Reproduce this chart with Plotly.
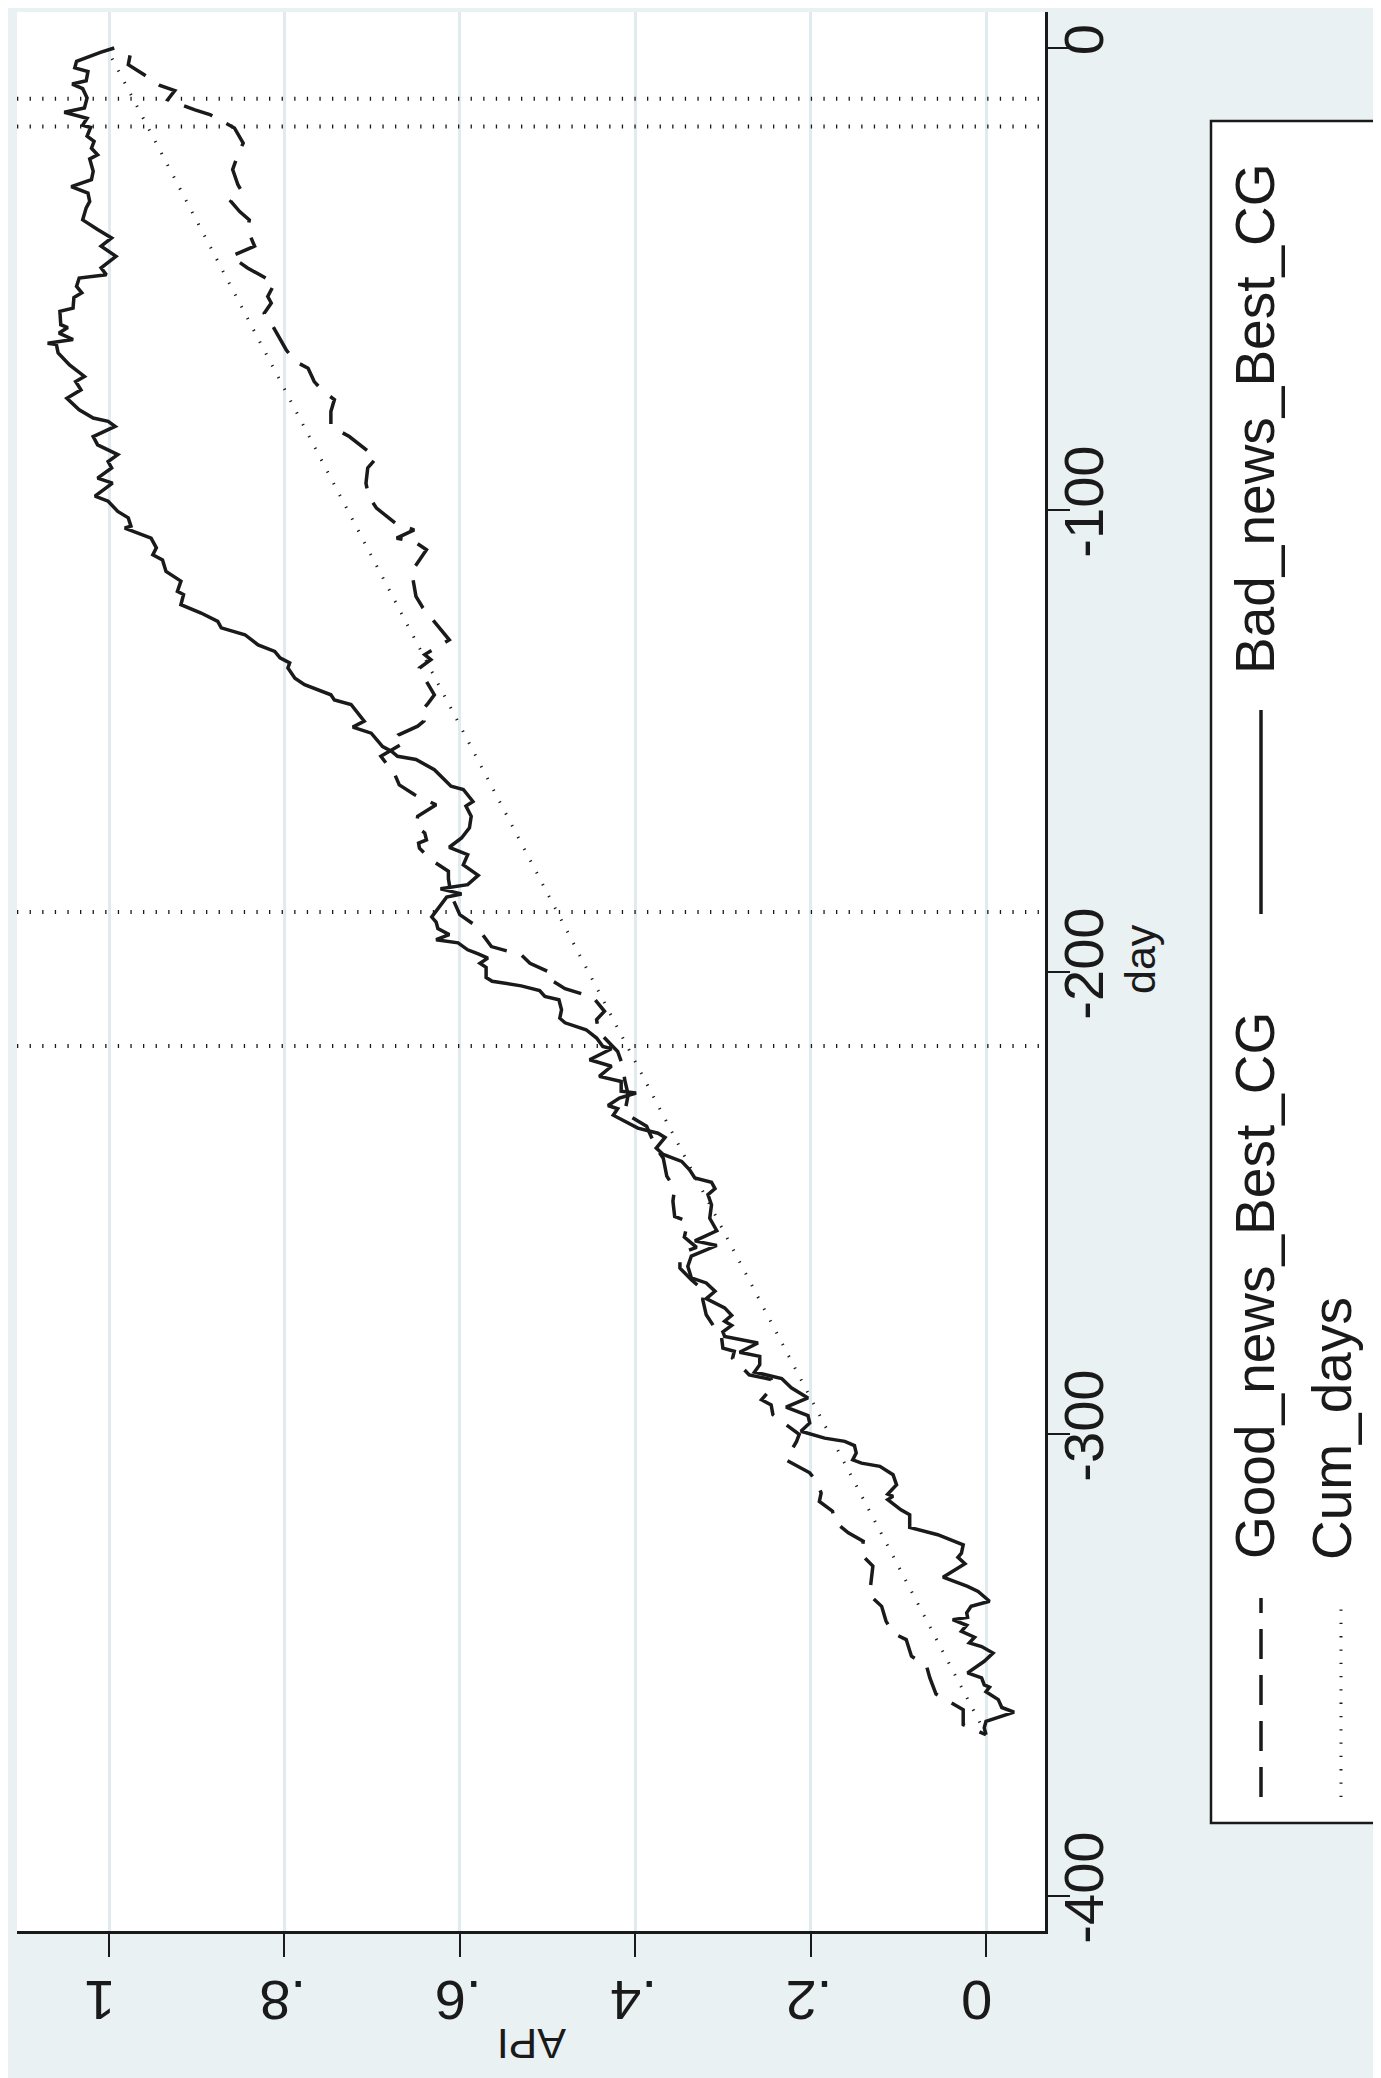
import plotly.graph_objects as go

# ---------------- data ----------------
bad_day = [0.0, -0.9, -2.9, -4.3, -5.1, -7.1, -7.8, -8.8, -10.8, -13.0, -13.9, -15.2, -16.7, -17.2,
           -19.1, -20.2, -21.7, -23.1, -24.0, -26.7, -28.5, -30.0, -31.4, -33.2, -34.6, -37.2, -39.3,
           -41.1, -42.9, -45.1, -47.6, -49.1, -49.8, -51.6, -53.0, -54.0, -56.3, -57.0, -59.9, -60.5,
           -61.7, -63.1, -63.9, -64.2, -66.0, -68.6, -71.1, -72.2, -74.0, -75.8, -78.3, -80.1, -80.8,
           -81.9, -84.1, -85.9, -88.0, -89.5, -90.9, -93.1, -94.2, -97.0, -98.1, -100.3, -101.7,
           -103.5, -103.9, -106.1, -108.2, -109.7, -110.8, -113.3, -115.4, -117.6, -118.3, -120.5,
           -122.3, -124.1, -125.5, -127.0, -129.2, -130.6, -132.0, -133.1, -134.2, -136.4, -137.8,
           -140.0, -141.1, -142.1, -145.7, -147.0, -148.3, -151.2, -152.2, -153.3, -154.0, -156.2,
           -159.8, -160.5, -163.1, -164.1, -166.3, -168.8, -171.0, -173.0, -174.6, -176.8, -179.1,
           -181.1, -182.0, -183.1, -183.8, -185.6, -188.1, -189.2, -190.6, -191.9, -193.0, -193.7,
           -195.2, -196.1, -197.0, -198.1, -199.0, -201.2, -202.0, -203.0, -204.0, -205.3, -206.0,
           -208.2, -210.0, -211.0, -212.5, -214.3, -216.1, -216.6, -219.0, -220.4, -222.6, -223.7,
           -225.8, -226.2, -227.3, -228.9, -229.6, -231.0, -233.8, -234.9, -235.8, -238.1, -239.5,
           -241.0, -242.8, -244.6, -245.5, -246.9, -248.2, -250.4, -253.3, -256.0, -258.2, -259.2,
           -261.5, -263.7, -266.2, -267.3, -269.1, -270.7, -272.7, -274.3, -275.6, -276.5, -277.9,
           -278.9, -280.3, -282.3, -283.2, -285.0, -286.6, -288.0, -290.0, -292.2, -294.2, -296.0,
           -297.6, -299.4, -300.9, -301.6, -302.5, -304.1, -305.6, -306.3, -307.0, -308.8, -311.0,
           -313.0, -313.5, -314.2, -316.4, -317.5, -320.2, -321.8, -324.0, -325.8, -326.7, -328.1,
           -331.0, -333.0, -334.1, -336.2, -337.3, -338.7, -339.7, -340.2, -341.4, -342.7, -344.0,
           -345.2, -346.0, -347.4, -349.2, -351.7, -352.8, -354.3, -354.8, -355.8, -357.5, -359.2,
           -360.2, -362.2, -363.6, -365.1]
bad_api = [0.994, 1.009, 1.037, 1.039, 1.024, 1.026, 1.042, 1.030, 1.025, 1.028, 1.051, 1.025, 1.030,
           1.021, 1.025, 1.017, 1.020, 1.013, 1.022, 1.018, 1.020, 1.043, 1.024, 1.022, 1.026, 1.030,
           1.013, 0.997, 1.009, 0.992, 1.009, 1.003, 1.034, 1.037, 1.031, 1.040, 1.041, 1.056, 1.055,
           1.047, 1.057, 1.041, 1.070, 1.060, 1.058, 1.045, 1.028, 1.038, 1.032, 1.048, 1.034, 1.018,
           1.001, 0.993, 1.018, 1.013, 0.990, 1.001, 0.997, 1.013, 0.996, 1.016, 1.001, 0.990, 0.978,
           0.975, 0.982, 0.952, 0.946, 0.950, 0.939, 0.935, 0.918, 0.922, 0.915, 0.918, 0.895, 0.876,
           0.872, 0.845, 0.830, 0.811, 0.805, 0.794, 0.796, 0.788, 0.777, 0.747, 0.743, 0.724, 0.709,
           0.722, 0.701, 0.688, 0.678, 0.671, 0.650, 0.629, 0.610, 0.596, 0.585, 0.593, 0.587, 0.589,
           0.598, 0.612, 0.591, 0.596, 0.579, 0.591, 0.622, 0.598, 0.615, 0.622, 0.632, 0.627, 0.625,
           0.612, 0.627, 0.602, 0.591, 0.579, 0.568, 0.577, 0.570, 0.570, 0.563, 0.530, 0.509, 0.503,
           0.487, 0.484, 0.486, 0.480, 0.456, 0.444, 0.437, 0.427, 0.452, 0.427, 0.441, 0.416, 0.416,
           0.399, 0.418, 0.431, 0.420, 0.425, 0.397, 0.374, 0.366, 0.376, 0.368, 0.347, 0.338, 0.332,
           0.313, 0.309, 0.317, 0.313, 0.315, 0.307, 0.332, 0.307, 0.336, 0.340, 0.336, 0.319, 0.309,
           0.319, 0.298, 0.290, 0.298, 0.290, 0.300, 0.298, 0.260, 0.281, 0.258, 0.258, 0.264, 0.233,
           0.222, 0.203, 0.228, 0.203, 0.201, 0.211, 0.184, 0.161, 0.150, 0.148, 0.152, 0.142, 0.121,
           0.106, 0.102, 0.112, 0.106, 0.112, 0.097, 0.087, 0.087, 0.055, 0.026, 0.028, 0.032, 0.024,
           0.049, 0.021, 0.009, -0.004, 0.017, 0.022, 0.021, 0.038, 0.022, 0.028, 0.013, 0.019, 0.005,
           -0.008, 0.002, 0.021, 0.005, 0.002, -0.004, 0.000, -0.014, -0.018, -0.032, 0.000, 0.002,
           0.000]

good_day = [-1.6, -3.6, -5.9, -8.1, -9.2, -11.2, -13.4, -14.4, -17.3, -20.6, -23.1, -26.3, -29.6,
            -30.9, -33.2, -35.4, -37.2, -39.3, -42.9, -45.1, -47.6, -50.9, -53.8, -55.2, -57.4, -60.3,
            -65.3, -67.8, -69.3, -72.2, -74.3, -76.1, -78.7, -81.9, -84.1, -88.7, -90.9, -94.2, -97.0,
            -99.6, -103.2, -104.3, -106.1, -106.8, -108.6, -113.3, -116.5, -118.7, -121.2, -124.1,
            -128.1, -131.3, -132.4, -134.2, -135.8, -137.1, -140.0, -141.8, -143.6, -145.7, -146.8,
            -148.6, -150.1, -153.3, -157.3, -159.5, -161.6, -163.8, -166.3, -168.5, -169.9, -171.4,
            -172.1, -173.2, -175.7, -178.2, -179.8, -183.3, -187.6, -190.1, -191.6, -194.5, -196.3,
            -198.1, -200.2, -201.5, -203.6, -205.5, -208.5, -210.3, -212.9, -214.7, -217.2, -220.4,
            -223.3, -226.6, -230.5, -233.4, -238.1, -240.3, -244.2, -246.8, -249.6, -252.9, -254.0,
            -257.4, -259.6, -260.3, -262.3, -264.1, -266.6, -269.1, -270.9, -274.2, -277.1, -278.4,
            -281.4, -282.1, -283.6, -285.4, -287.2, -288.2, -289.7, -292.6, -293.7, -295.8, -297.3,
            -300.1, -301.6, -305.6, -308.4, -310.6, -312.8, -314.6, -316.7, -318.9, -321.4, -323.2,
            -326.1, -328.6, -331.9, -334.8, -337.3, -340.5, -343.1, -344.5, -348.1, -350.1, -352.8,
            -356.3, -359.7, -362.9, -365.1]
good_api = [0.976, 0.978, 0.959, 0.942, 0.925, 0.933, 0.902, 0.885, 0.857, 0.847, 0.853, 0.859, 0.853,
            0.849, 0.861, 0.851, 0.840, 0.842, 0.834, 0.861, 0.842, 0.811, 0.819, 0.815, 0.823, 0.813,
            0.798, 0.788, 0.773, 0.766, 0.756, 0.743, 0.747, 0.747, 0.726, 0.695, 0.705, 0.707, 0.704,
            0.695, 0.671, 0.652, 0.672, 0.652, 0.638, 0.655, 0.652, 0.650, 0.642, 0.629, 0.612, 0.640,
            0.633, 0.646, 0.644, 0.638, 0.629, 0.636, 0.644, 0.641, 0.648, 0.669, 0.661, 0.690, 0.674,
            0.669, 0.652, 0.627, 0.648, 0.650, 0.640, 0.638, 0.647, 0.646, 0.633, 0.613, 0.613, 0.610,
            0.600, 0.581, 0.575, 0.564, 0.530, 0.520, 0.496, 0.498, 0.480, 0.448, 0.435, 0.444, 0.442,
            0.433, 0.420, 0.414, 0.412, 0.408, 0.412, 0.387, 0.376, 0.368, 0.364, 0.355, 0.357, 0.355,
            0.340, 0.344, 0.330, 0.340, 0.349, 0.349, 0.336, 0.321, 0.323, 0.319, 0.309, 0.302, 0.300,
            0.287, 0.289, 0.279, 0.270, 0.245, 0.243, 0.256, 0.245, 0.243, 0.233, 0.213, 0.216, 0.228,
            0.201, 0.192, 0.188, 0.190, 0.175, 0.173, 0.157, 0.140, 0.142, 0.129, 0.131, 0.133, 0.119,
            0.114, 0.106, 0.091, 0.085, 0.068, 0.064, 0.057, 0.026, 0.026, 0.000]

cum_day = [-365, -1]
cum_api = [0.0, 1.0]

ref_days = [-11, -17, -187, -216]

api_ticks = [0, 0.2, 0.4, 0.6, 0.8, 1]
api_labels = ["0", ".2", ".4", ".6", ".8", "1"]
day_ticks = [-400, -300, -200, -100, 0]
day_labels = ["-400", "-300", "-200", "-100", "0"]

series_names = ["Good_news_Best_CG", "Bad_news_Best_CG", "Cum_days"]

# ---------------- styling ----------------
W, H = 1381, 2078
L, R, T, B = 9, 1037, 4, 1923          # plot-area edges in pixels
INK = "#1a1a1a"
BG = "#eaf1f3"
GRID = "#e1eaee"
FONT = "Liberation Sans, Arial, sans-serif"
DASH = "30px,16px"
DOT = "1.3px,12px"


def px(X):
    return (X - L) / (R - L)


def py(Y):
    return (B - Y) / (B - T)


fig = go.Figure()
fig.add_trace(go.Scatter(x=good_api, y=good_day, mode="lines", name=series_names[0],
                         line=dict(color=INK, width=3.5, dash=DASH)))
fig.add_trace(go.Scatter(x=bad_api, y=bad_day, mode="lines", name=series_names[1],
                         line=dict(color=INK, width=3.5)))
fig.add_trace(go.Scatter(x=cum_api, y=cum_day, mode="lines", name=series_names[2],
                         line=dict(color=INK, width=3, dash=DOT)))

for d in ref_days:
    fig.add_shape(type="line", xref="paper", x0=0, x1=1, yref="y", y0=d, y1=d,
                  line=dict(color=INK, width=4, dash="1.3px,11.3px"))

# legend box (rotated legend, drawn by hand)
fig.add_shape(type="rect", xref="paper", yref="paper",
              x0=px(1203), x1=px(1400), y0=py(1815), y1=py(113),
              line=dict(color=INK, width=2.5), fillcolor="white", layer="below")
fig.add_shape(type="line", xref="paper", yref="paper", x0=px(1253), x1=px(1253),
              y0=py(1789), y1=py(1590), line=dict(color=INK, width=3.5, dash=DASH))
fig.add_shape(type="line", xref="paper", yref="paper", x0=px(1253), x1=px(1253),
              y0=py(906), y1=py(702), line=dict(color=INK, width=3.5))
fig.add_shape(type="line", xref="paper", yref="paper", x0=px(1333), x1=px(1333),
              y0=py(1789), y1=py(1590), line=dict(color=INK, width=3, dash=DOT))

leg_font = dict(family=FONT, size=55, color=INK)
anno = dict(xref="paper", yref="paper", showarrow=False, xanchor="center", yanchor="middle")
fig.add_annotation(text=series_names[0], x=px(1247), y=py(1278), textangle=-90, font=leg_font, **anno)
fig.add_annotation(text=series_names[1], x=px(1247), y=py(411), textangle=-90, font=leg_font, **anno)
fig.add_annotation(text=series_names[2], x=px(1324), y=py(1421), textangle=-90, font=leg_font, **anno)

# axis titles
fig.add_annotation(text="API", x=px(524), y=py(2036), textangle=180,
                   font=dict(family=FONT, size=43, color=INK), **anno)
fig.add_annotation(text="day", x=px(1132), y=py(951), textangle=-90,
                   font=dict(family=FONT, size=43, color=INK), **anno)

tick_font = dict(family=FONT, size=56, color=INK)
fig.update_layout(
    width=W, height=H,
    margin=dict(l=L, r=W - R, t=T, b=H - B, pad=0),
    paper_bgcolor=BG, plot_bgcolor="white",
    showlegend=False,
    xaxis=dict(range=[(978 - L) / 877, (978 - R) / 877], tickvals=api_ticks, ticktext=api_labels,
               tickangle=180, showgrid=True, gridcolor=GRID, gridwidth=3, zeroline=False,
               showline=True, linecolor=INK, linewidth=2.5, ticks="outside", ticklen=23,
               tickwidth=2, tickcolor=INK, tickfont=tick_font, ticklabelstandoff=13,
               ticklabelshift=25),
    yaxis=dict(range=[(40 - B) / 4.62, (40 - T) / 4.62], side="right", tickvals=day_ticks,
               ticktext=day_labels, tickangle=-90, showgrid=False, zeroline=False,
               showline=True, linecolor=INK, linewidth=2.5, ticks="outside", ticklen=22,
               tickwidth=2, tickcolor=INK, tickfont=tick_font, ticklabelstandoff=-34),
)

fig.write_html("out.html")
